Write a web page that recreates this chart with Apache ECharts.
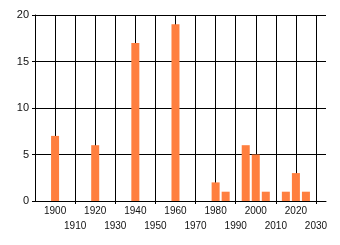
<!DOCTYPE html>
<html>
<head>
<meta charset="utf-8">
<script src="https://cdn.jsdelivr.net/npm/echarts@6/dist/echarts.min.js"></script>
<style>html,body{margin:0;padding:0;background:#fff;}#c{width:340px;height:245px;}</style>
</head>
<body>
<div id="c"></div>
<script>
var categories = ['1890','1895','1900','1905','1910','1915','1920','1925','1930','1935','1940','1945','1950','1955','1960','1965','1970','1975','1980','1985','1990','1995','2000','2005','2010','2015','2020','2025','2030','2035'];
var barYears = ['1900','1920','1940','1960','1980','1985','1995','2000','2005','2015','2020','2025'];
var barValues = [7, 6, 17, 19, 2, 1, 6, 5, 1, 1, 3, 1];
var yTicks = [0, 5, 10, 15, 20];

var chart = echarts.init(document.getElementById('c'), null, {renderer: 'canvas'});
var font = 'Liberation Sans, Arial, sans-serif';
function isDecade(v) { var n = +v; return n % 10 === 0 && n >= 1900 && n <= 2030; }
function isEven(v) { return isDecade(v) && (+v) % 20 === 0; }
function isOdd(v) { return isDecade(v) && (+v) % 20 === 10; }
var labelBase = {color: '#111', fontFamily: font, fontSize: 10, showMinLabel: true, showMaxLabel: true, hideOverlap: false};
chart.setOption({
  animation: false,
  grid: {left: 35, right: 14, top: 15, bottom: 44, containLabel: false},
  xAxis: [{
    type: 'category',
    data: categories,
    boundaryGap: false,
    axisLine: {show: true, lineStyle: {color: '#000', width: 1}},
    axisTick: {show: false},
    axisLabel: Object.assign({}, labelBase, {
      interval: function (i, v) { return isEven(v); },
      formatter: function (v) { return isEven(v) ? v : ''; },
      margin: 5
    }),
    splitLine: {show: true, lineStyle: {color: '#000', width: 1},
      interval: function (i, v) { return isDecade(v); }}
  }, {
    type: 'category',
    data: categories,
    boundaryGap: false,
    position: 'bottom',
    axisLine: {show: false},
    axisTick: {show: true, length: 3, lineStyle: {color: '#000'},
      interval: function (i, v) { return isOdd(v); }},
    axisLabel: Object.assign({}, labelBase, {
      interval: function (i, v) { return isOdd(v); },
      formatter: function (v) { return isOdd(v) ? v : ''; },
      margin: 20
    }),
    splitLine: {show: false}
  }],
  yAxis: {
    type: 'value',
    min: yTicks[0], max: yTicks[yTicks.length - 1], interval: 5,
    axisLine: {show: true, lineStyle: {color: '#000', width: 1}},
    axisTick: {show: true, length: 3, lineStyle: {color: '#000'}},
    axisLabel: {color: '#111', fontFamily: font, fontSize: 11, margin: 6},
    splitLine: {show: true, lineStyle: {color: '#000', width: 1}}
  },
  series: [{
    type: 'bar',
    xAxisIndex: 0,
    barWidth: 8,
    itemStyle: {color: '#FF7F3F'},
    data: barYears.map(function (y, i) { return [y, barValues[i]]; })
  }]
});
</script>
</body>
</html>
